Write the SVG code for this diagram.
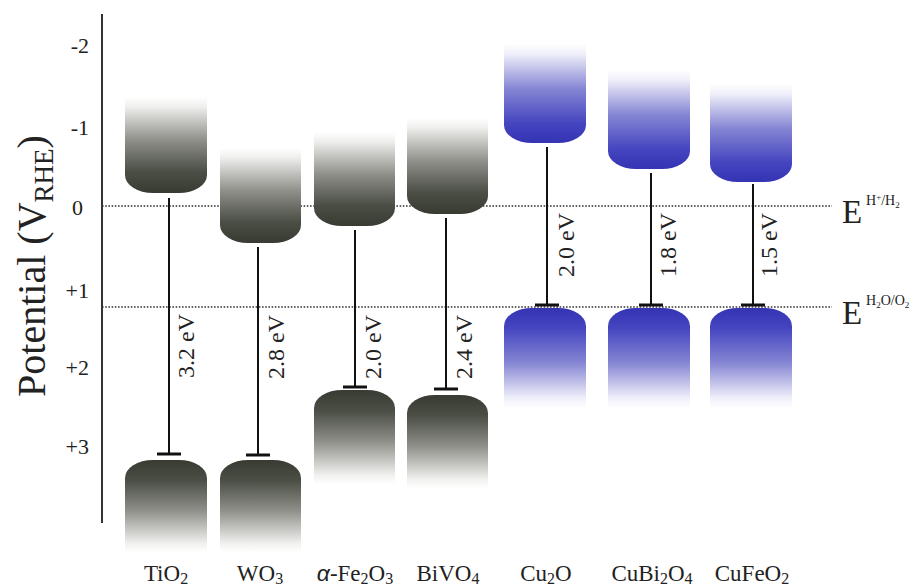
<svg xmlns="http://www.w3.org/2000/svg" width="920" height="587" viewBox="0 0 920 587">
<style>
text{font-family:"Liberation Serif","Times New Roman",serif;fill:#222}
.tick{font-size:22px;text-anchor:end}
.gap{font-size:24px}
.lbl{font-size:23px;text-anchor:middle}
.sub{font-size:16px}
.axis{stroke:#333;stroke-width:2;fill:none}
.dot{stroke:#333;stroke-width:1.3;stroke-dasharray:1.6 1.6;fill:none}
.gl{stroke:#111;stroke-width:2;fill:none}
.tb{stroke:#111;stroke-width:3;fill:none}
</style>
<defs>
<linearGradient id="gCB" x1="0" y1="0" x2="0" y2="1">
<stop offset="0" stop-color="#ffffff"/>
<stop offset="0.1" stop-color="#efefed"/>
<stop offset="0.45" stop-color="#8e9089"/>
<stop offset="0.78" stop-color="#4b4e45"/>
<stop offset="1" stop-color="#383b32"/>
</linearGradient>
<linearGradient id="gVB" x1="0" y1="1" x2="0" y2="0">
<stop offset="0" stop-color="#ffffff"/>
<stop offset="0.1" stop-color="#efefed"/>
<stop offset="0.45" stop-color="#8e9089"/>
<stop offset="0.78" stop-color="#4b4e45"/>
<stop offset="1" stop-color="#383b32"/>
</linearGradient>
<linearGradient id="bCB" x1="0" y1="0" x2="0" y2="1">
<stop offset="0" stop-color="#ffffff"/>
<stop offset="0.1" stop-color="#efeffa"/>
<stop offset="0.45" stop-color="#8686d4"/>
<stop offset="0.8" stop-color="#4545c0"/>
<stop offset="1" stop-color="#3434b4"/>
</linearGradient>
<linearGradient id="bVB" x1="0" y1="1" x2="0" y2="0">
<stop offset="0" stop-color="#ffffff"/>
<stop offset="0.1" stop-color="#efeffa"/>
<stop offset="0.45" stop-color="#8686d4"/>
<stop offset="0.8" stop-color="#4545c0"/>
<stop offset="1" stop-color="#3434b4"/>
</linearGradient>
</defs>

<g id="axes">
<line class="axis" x1="102" y1="14" x2="102" y2="523"/>
<line class="dot" x1="102" y1="206" x2="832" y2="206"/>
<line class="dot" x1="102" y1="307" x2="832" y2="307"/>
<text class="tick" x="89" y="53">-2</text>
<text class="tick" x="89" y="135">-1</text>
<text class="tick" x="83" y="215">0</text>
<text class="tick" x="89" y="298">+1</text>
<text class="tick" x="89" y="375">+2</text>
<text class="tick" x="89" y="454">+3</text>
<text transform="translate(45 266) rotate(-90)" text-anchor="middle" style="font-size:40px">Potential (V<tspan dy="8" style="font-size:27px">RHE</tspan><tspan dy="-8">)</tspan></text>
<text x="842" y="223" style="font-size:33px">E</text>
<text x="866" y="205" style="font-size:14px">H<tspan dy="-5" style="font-size:9px">+</tspan><tspan dy="5">/H</tspan><tspan dy="3" style="font-size:9px">2</tspan></text>
<text x="842" y="324" style="font-size:33px">E</text>
<text x="866" y="305" style="font-size:14px">H<tspan dy="3" style="font-size:9px">2</tspan><tspan dy="-3">O/O</tspan><tspan dy="3" style="font-size:9px">2</tspan></text>
</g>

<g id="TiO2">
<path fill="url(#gCB)" d="M125,97 H207 V175 A28 18 0 0 1 179,193 H153 A28 18 0 0 1 125,175 Z"/>
<path fill="url(#gVB)" d="M125,552 V478 A28 18 0 0 1 153,460 H179 A28 18 0 0 1 207,478 V552 Z"/>
<text class="lbl" x="166" y="581">TiO<tspan dy="3" class="sub">2</tspan></text>
</g>
<g id="WO3">
<path fill="url(#gCB)" d="M220,148 H301 V225 A28 18 0 0 1 273,243 H248 A28 18 0 0 1 220,225 Z"/>
<path fill="url(#gVB)" d="M220,552 V478 A28 18 0 0 1 248,460 H273 A28 18 0 0 1 301,478 V552 Z"/>
<text class="lbl" x="260" y="581">WO<tspan dy="3" class="sub">3</tspan></text>
</g>
<g id="Fe2O3">
<path fill="url(#gCB)" d="M314,132 H395 V208 A28 18 0 0 1 367,226 H342 A28 18 0 0 1 314,208 Z"/>
<path fill="url(#gVB)" d="M314,484 V408 A28 18 0 0 1 342,390 H367 A28 18 0 0 1 395,408 V484 Z"/>
<text class="lbl" x="355" y="581"><tspan style="font-family:'Liberation Sans',sans-serif;font-style:italic">α</tspan>-Fe<tspan dy="3" class="sub">2</tspan><tspan dy="-3">O</tspan><tspan dy="3" class="sub">3</tspan></text>
</g>
<g id="BiVO4">
<path fill="url(#gCB)" d="M407,118 H488 V196 A28 18 0 0 1 460,214 H435 A28 18 0 0 1 407,196 Z"/>
<path fill="url(#gVB)" d="M407,488 V413 A28 18 0 0 1 435,395 H460 A28 18 0 0 1 488,413 V488 Z"/>
<text class="lbl" x="448" y="581">BiVO<tspan dy="3" class="sub">4</tspan></text>
</g>
<g id="Cu2O">
<path fill="url(#bCB)" d="M504,44 H586 V125 A28 18 0 0 1 558,143 H532 A28 18 0 0 1 504,125 Z"/>
<path fill="url(#bVB)" d="M504,408 V326 A28 18 0 0 1 532,308 H558 A28 18 0 0 1 586,326 V408 Z"/>
<text class="lbl" x="546" y="581">Cu<tspan dy="3" class="sub">2</tspan><tspan dy="-3">O</tspan></text>
</g>
<g id="CuBi2O4">
<path fill="url(#bCB)" d="M608,70 H690 V151 A28 18 0 0 1 662,169 H636 A28 18 0 0 1 608,151 Z"/>
<path fill="url(#bVB)" d="M608,408 V326 A28 18 0 0 1 636,308 H662 A28 18 0 0 1 690,326 V408 Z"/>
<text class="lbl" x="652" y="581">CuBi<tspan dy="3" class="sub">2</tspan><tspan dy="-3">O</tspan><tspan dy="3" class="sub">4</tspan></text>
</g>
<g id="CuFeO2">
<path fill="url(#bCB)" d="M710,84 H792 V164 A28 18 0 0 1 764,182 H738 A28 18 0 0 1 710,164 Z"/>
<path fill="url(#bVB)" d="M710,408 V326 A28 18 0 0 1 738,308 H764 A28 18 0 0 1 792,326 V408 Z"/>
<text class="lbl" x="752" y="581">CuFeO<tspan dy="3" class="sub">2</tspan></text>
</g>

<g id="connectors">
<line class="gl" x1="169" y1="198" x2="169" y2="454"/>
<line class="tb" x1="157" y1="454" x2="181" y2="454"/>
<line class="gl" x1="258" y1="247" x2="258" y2="455"/>
<line class="tb" x1="246" y1="455" x2="270" y2="455"/>
<line class="gl" x1="355" y1="230" x2="355" y2="387"/>
<line class="tb" x1="343" y1="387" x2="367" y2="387"/>
<line class="gl" x1="446" y1="218" x2="446" y2="389"/>
<line class="tb" x1="434" y1="389" x2="458" y2="389"/>
<line class="gl" x1="547" y1="147" x2="547" y2="305"/>
<line class="tb" x1="535" y1="305" x2="559" y2="305"/>
<line class="gl" x1="651" y1="173" x2="651" y2="305"/>
<line class="tb" x1="639" y1="305" x2="663" y2="305"/>
<line class="gl" x1="753" y1="184" x2="753" y2="305"/>
<line class="tb" x1="741" y1="305" x2="765" y2="305"/>
<text class="gap" transform="translate(194 346) rotate(-90)" text-anchor="middle">3.2 eV</text>
<text class="gap" transform="translate(284 347) rotate(-90)" text-anchor="middle">2.8 eV</text>
<text class="gap" transform="translate(381 347) rotate(-90)" text-anchor="middle">2.0 eV</text>
<text class="gap" transform="translate(472 347) rotate(-90)" text-anchor="middle">2.4 eV</text>
<text class="gap" transform="translate(574 245) rotate(-90)" text-anchor="middle">2.0 eV</text>
<text class="gap" transform="translate(676 245) rotate(-90)" text-anchor="middle">1.8 eV</text>
<text class="gap" transform="translate(777 245) rotate(-90)" text-anchor="middle">1.5 eV</text>
</g>
</svg>
